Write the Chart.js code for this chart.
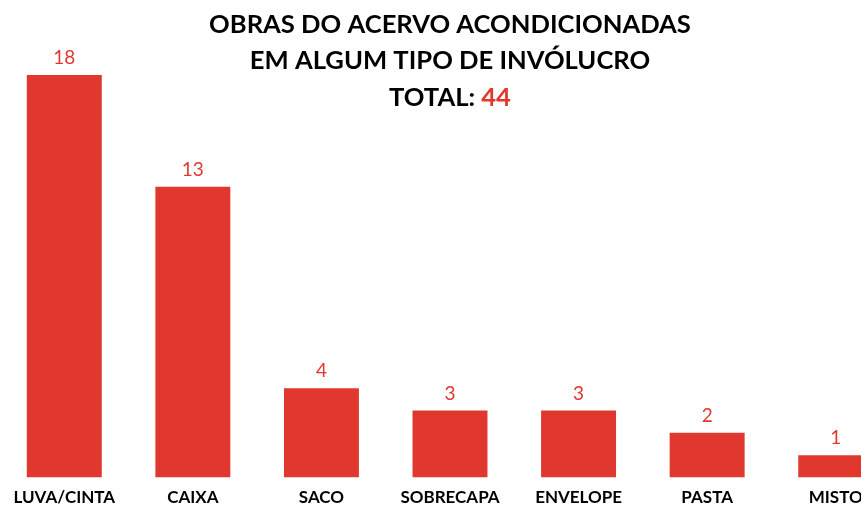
<!DOCTYPE html>
<html>
<head>
<meta charset="utf-8">
<script src="https://cdn.jsdelivr.net/npm/chart.js@4/dist/chart.umd.min.js"></script>
<style>
  html, body { margin: 0; padding: 0; background: #fff; overflow: hidden; }
  #wrap { width: 861px; height: 506px; overflow: hidden; position: relative; }
  #wrap canvas { position: absolute; left: 0; top: 0; }
</style>
</head>
<body>
<div id="wrap"><canvas id="chart" width="900" height="510"></canvas></div>
<script>
// Chart data
const categories = ['LUVA/CINTA', 'CAIXA', 'SACO', 'SOBRECAPA', 'ENVELOPE', 'PASTA', 'MISTO'];
const values = [18, 13, 4, 3, 3, 2, 1];
const titleLines = ['OBRAS DO ACERVO ACONDICIONADAS', 'EM ALGUM TIPO DE INVÓLUCRO'];
const totalLabel = 'TOTAL: ';
const totalValue = '44';

const RED = '#e0382f';
const FONT = 'Lato, "Noto Sans", sans-serif';

// Draws the three-line title, with the total in red.
const titlePlugin = {
    id: 'titlePlugin',
    afterDraw: function (chart) {
        const ctx = chart.ctx;
        const cx = chart.width / 2;
        ctx.save();
        ctx.font = 'bold 25.6px ' + FONT;
        ctx.textBaseline = 'middle';
        ctx.fillStyle = '#000';
        ctx.textAlign = 'center';
        ctx.fillText(titleLines[0], cx, 25);
        ctx.fillText(titleLines[1], cx, 61);
        const w1 = ctx.measureText(totalLabel).width;
        const w2 = ctx.measureText(totalValue).width;
        const x0 = cx - (w1 + w2) / 2;
        ctx.textAlign = 'left';
        ctx.fillText(totalLabel, x0, 98);
        ctx.fillStyle = RED;
        ctx.fillText(totalValue, x0 + w1, 98);
        ctx.restore();
    }
};

// Value labels above each bar.
const valuePlugin = {
    id: 'valuePlugin',
    afterDatasetsDraw: function (chart) {
        const ctx = chart.ctx;
        const meta = chart.getDatasetMeta(0);
        ctx.save();
        ctx.font = '19px ' + FONT;
        ctx.fillStyle = RED;
        ctx.textAlign = 'center';
        ctx.textBaseline = 'middle';
        meta.data.forEach(function (bar, i) {
            ctx.fillText(String(values[i]), bar.x, bar.y - 17);
        });
        ctx.restore();
    }
};

new Chart(document.getElementById('chart'), {
    type: 'bar',
    data: {
        labels: categories,
        datasets: [{
            data: values,
            backgroundColor: RED,
            borderWidth: 0,
            barPercentage: 0.583,
            categoryPercentage: 1
        }]
    },
    options: {
        responsive: false,
        animation: false,
        layout: { padding: { top: 75, left: 0, right: 0, bottom: 0 } },
        plugins: {
            legend: { display: false },
            tooltip: { enabled: false }
        },
        scales: {
            x: {
                grid: { display: false },
                border: { display: false },
                ticks: {
                    color: '#000',
                    padding: 2,
                    maxRotation: 0,
                    autoSkip: false,
                    font: { family: FONT, size: 17, weight: 'bold' }
                }
            },
            y: {
                display: false,
                min: 0,
                max: 18
            }
        }
    },
    plugins: [titlePlugin, valuePlugin]
});
</script>
</body>
</html>
